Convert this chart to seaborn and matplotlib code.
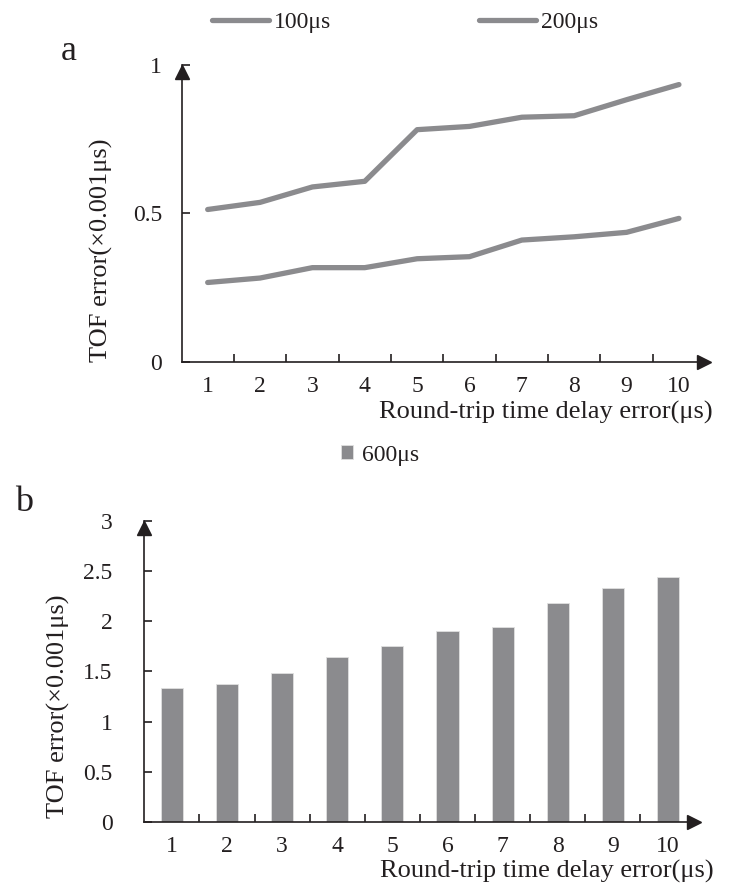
import seaborn as sns
import matplotlib.pyplot as plt
import matplotlib.transforms as mtransforms
import pandas as pd

# data
categories = ['1', '2', '3', '4', '5', '6', '7', '8', '9', '10']
tof_100 = [0.267, 0.282, 0.317, 0.317, 0.347, 0.354, 0.410, 0.421, 0.436, 0.483]
tof_200 = [0.513, 0.537, 0.589, 0.608, 0.782, 0.793, 0.824, 0.829, 0.883, 0.934]
tof_600 = [1.335, 1.37, 1.48, 1.64, 1.75, 1.90, 1.94, 2.18, 2.33, 2.44]
series_labels = ['100μs', '200μs', '600μs']

sns.set_theme(style='white')
plt.rcParams['font.family'] = ['Liberation Serif', 'DejaVu Serif']

ink = '#231f20'
grey = '#8b8b8e'
fs = 17      # tick labels / legend
lab_fs = 19  # axis titles

lines = pd.DataFrame({
    'delay': categories * 2,
    'tof': tof_100 + tof_200,
    'series': [series_labels[0]] * 10 + [series_labels[1]] * 10,
})
bars = pd.DataFrame({'delay': categories, 'tof': tof_600, 'series': series_labels[2]})

fig = plt.figure(figsize=(7.46, 8.94), dpi=100)
ax1 = fig.add_axes([0.2433, 0.5954, 0.7019, 0.3319])
ax2 = fig.add_axes([0.1935, 0.0805, 0.7389, 0.337])

sns.lineplot(data=lines, x='delay', y='tof', hue='series',
             palette=[grey, grey], linewidth=3.8, ax=ax1, sort=False,
             solid_capstyle='round')
sns.barplot(data=bars, x='delay', y='tof', hue='series', palette=[grey],
            width=0.4, edgecolor='#e0e0e0', linewidth=0.6, ax=ax2)


def style_axis(ax, ymax, yticks, ylabels, ypad, lab_x, lab_y, xl_x, xl_y):
    ax.set_xlim(-0.5, 9.5)
    ax.set_ylim(0, ymax)
    for s in ['top', 'right']:
        ax.spines[s].set_visible(False)
    for s in ['left', 'bottom']:
        ax.spines[s].set_color(ink)
        ax.spines[s].set_linewidth(1.2)
    ax.set_xticks(range(10))
    ax.set_xticklabels(categories)
    ax.set_xticks([i + 0.5 for i in range(9)], minor=True)
    ax.tick_params(axis='x', which='major', length=0, pad=10,
                   labelsize=fs, labelcolor=ink)
    ax.tick_params(axis='x', which='minor', direction='in', length=6,
                   width=1.2, color=ink, bottom=True)
    ax.set_yticks(yticks)
    ax.set_yticklabels(ylabels)
    ax.tick_params(axis='y', direction='in', length=6, width=1.2, color=ink,
                   pad=ypad, labelsize=fs, labelcolor=ink, left=True)
    ax.set_ylabel('TOF error(×0.001μs)', fontsize=lab_fs, color=ink)
    ax.yaxis.set_label_coords(lab_x, lab_y)
    ax.set_xlabel('Round-trip time delay error(μs)', fontsize=lab_fs, color=ink,
                  ha='right')
    ax.xaxis.set_label_coords(xl_x, xl_y)
    # arrow heads at the ends of the axes
    up = mtransforms.offset_copy(ax.transAxes, fig=fig, x=0, y=-5, units='points')
    right = mtransforms.offset_copy(ax.transAxes, fig=fig, x=-1, y=0, units='points')
    ax.plot(0, 1, marker='^', ms=10, color=ink, transform=up, clip_on=False)
    ax.plot(1, 0, marker='>', ms=10, color=ink, transform=right, clip_on=False)


style_axis(ax1, 1, [0, 0.5, 1], ['0', '0.5', '1'], 14, -0.131, 0.376, 1.015, -0.132)
style_axis(ax2, 3, [0, 0.5, 1, 1.5, 2, 2.5, 3],
           ['0', '0.5', '1', '1.5', '2', '2.5', '3'], 23, -0.135, 0.385, 1.032, -0.127)

h1, l1 = ax1.get_legend_handles_labels()
ax1.legend(h1, l1, loc='center', bbox_to_anchor=(405 / 746, 1 - 22 / 894),
           bbox_transform=fig.transFigure, ncol=2, frameon=False, fontsize=fs,
           handlelength=2.4, handletextpad=0.2, columnspacing=6.3,
           labelcolor=ink)

h2, l2 = ax2.get_legend_handles_labels()
ax2.legend(h2, l2, loc='center', bbox_to_anchor=(380 / 746, 1 - 455 / 894),
           bbox_transform=fig.transFigure, frameon=False, fontsize=fs,
           handlelength=0.5, handleheight=0.5, handletextpad=0.4,
           labelcolor=ink)

fig.text(69 / 746, 1 - 52 / 894, 'a', fontsize=26, color=ink, ha='center', va='center')
fig.text(24 / 746, 1 - 503 / 894, 'b', fontsize=26, color=ink, ha='center', va='center')

fig.savefig('out.png', dpi=100)
